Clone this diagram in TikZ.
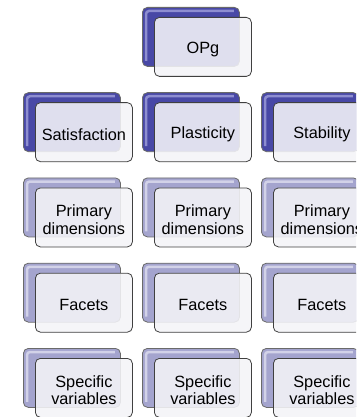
\documentclass[tikz,border=0pt]{standalone}
\usepackage{fontspec}
\setmainfont{Liberation Sans}
\pgfdeclarelayer{bg}
\pgfsetlayers{bg,main}
\definecolor{darkback}{HTML}{4848A6}
\definecolor{darkhl}{HTML}{8E8ED0}
\definecolor{lightback}{HTML}{A4A4CE}
\definecolor{lighthl}{HTML}{D2D2E8}
\definecolor{frontfill}{HTML}{F4F4F8}
\definecolor{frontline}{HTML}{404040}
\definecolor{backline}{HTML}{6A6A6A}
\definecolor{conndark}{HTML}{4A4AA8}
\definecolor{connlight}{HTML}{A2A2D0}
\tikzset{
  backbox/.style={draw=backline, line width=0.8pt, rounded corners=5pt,
    minimum width=97pt, minimum height=59pt, anchor=north west, fill=#1, inner sep=0pt},
  frontbox/.style={draw=frontline, line width=0.8pt, rounded corners=5pt,
    minimum width=97pt, minimum height=59pt, anchor=north west, fill=frontfill,
    fill opacity=0.88, inner sep=0pt},
  boxtext/.style={align=center, inner sep=0pt, yshift=-2.5pt},
  hlline/.style={line width=2.5pt, draw=#1, rounded corners=3pt},
  connd/.style={draw=conndark, line width=1.6pt},
  connl/.style={draw=connlight, line width=1.6pt}
}
\newcommand{\hlbox}[2]{\draw[hlline=#2] ([xshift=4pt,yshift=6pt]#1.south west) -- ([xshift=4pt,yshift=-4pt]#1.north west) -- ([xshift=-6pt,yshift=-4pt]#1.north east);}
\begin{document}
\begin{tikzpicture}[x=1pt,y=-1pt,font=\fontsize{16.3}{17.5}\selectfont]
\useasboundingbox (0,0) rectangle (356,417);
\fill[white] (0,0) rectangle (356,417);
\clip (0,0) rectangle (356,417);
\node[backbox=darkback] (b0) at (142,7) {};
\hlbox{b0}{darkhl}
\node[frontbox] (f0) at (154,17) {};
\node[boxtext] (t0) at (f0.center) {OPg};
\foreach \c/\x/\t in {1/23/Satisfaction,2/142/Plasticity,3/261/Stability}{
  \node[backbox=darkback] (b\c1) at (\x,92.25) {};
  \hlbox{b\c1}{darkhl}
  \node[frontbox] (f\c1) at (\x+12,102.25) {};
  \node[boxtext] (t\c1) at (f\c1.center) {\t};
  \foreach \l/\s in {2/{Primary\\dimensions},3/Facets,4/{Specific\\variables}}{
    \pgfmathsetmacro\yy{7+85.25*\l}
    \node[backbox=lightback] (b\c\l) at (\x,\yy) {};
    \hlbox{b\c\l}{lighthl}
    \node[frontbox] (f\c\l) at (\x+12,\yy+10) {};
    \node[boxtext] (t\c\l) at (f\c\l.center) {\s};
  }
}
\begin{pgfonlayer}{bg}
\coordinate (hbar) at (0,86);
\draw[connd] (b0.south) -- (b0.south |- hbar);
\draw[connd] (b11.north) -- (b11.north |- hbar) -- (b31.north |- hbar) -- (b31.north);
\draw[connd] (b21.north) -- (b21.north |- hbar);
\foreach \c in {1,2,3}{
  \draw[connl] (b\c1.south) -- (b\c2.north);
  \draw[connl] (b\c2.south) -- (b\c3.north);
  \draw[connl] (b\c3.south) -- (b\c4.north);
}
\end{pgfonlayer}
\end{tikzpicture}
\end{document}
